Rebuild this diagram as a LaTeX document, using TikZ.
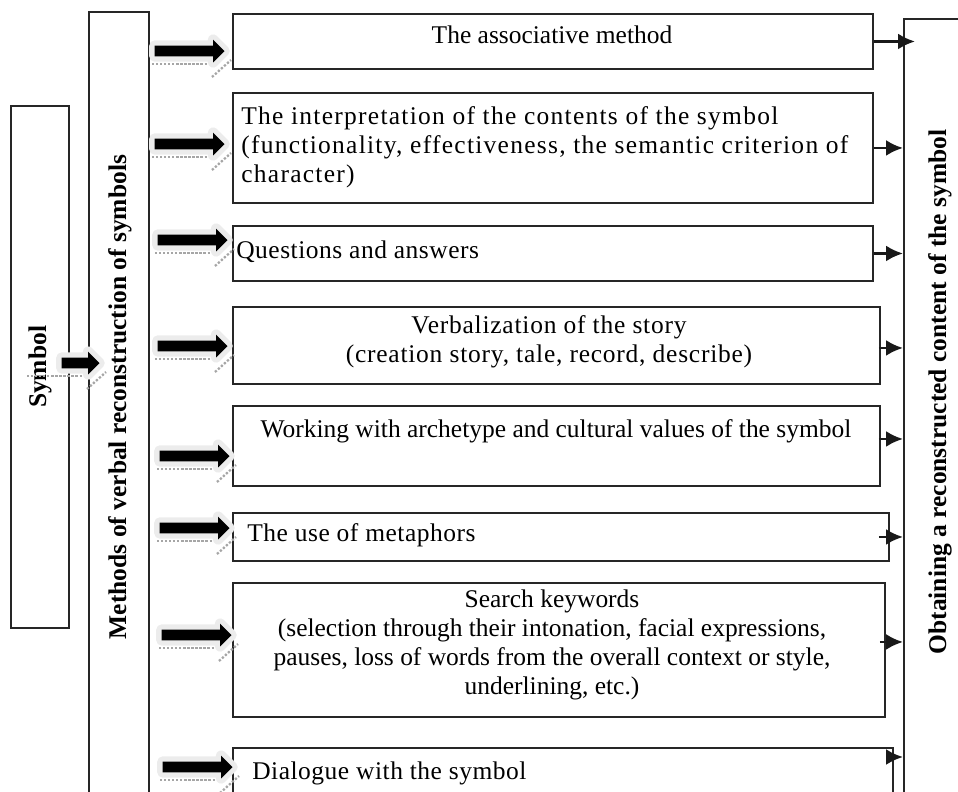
\documentclass[tikz,border=0pt]{standalone}
\usepackage{fontspec}
\setmainfont{Liberation Serif}
\usetikzlibrary{shapes.arrows,arrows.meta,calc}

\tikzset{
  mbox/.style={draw=black!85, line width=1.1pt, anchor=north west, inner sep=0pt},
  mtext/.style={font=\fontsize{14.5}{16.5}\selectfont, inner sep=0pt},
  wide/.style={font=\fontsize{14.5}{16.5}\selectfont\addfontfeature{LetterSpace=#1}},
  sidetext/.style={font=\fontsize{14.5}{16}\selectfont\bfseries, rotate=90, inner sep=0pt},
  blockarr/.style={single arrow, fill=black, inner sep=0pt, text width=0pt,
    text height=0.1cm, text depth=0.1cm, minimum height=1.4cm,
    single arrow head extend=0.12cm, anchor=tip,
    preaction={draw=gray!15, line width=6pt, line join=round}},
  arrshadow/.style={draw=gray!70, line width=1.3pt, densely dotted},
  outarr/.style={draw=black!90, line width=1.5pt, -{Latex[length=3.4mm,width=3.2mm]}}
}

% block arrow with its shadow: name, tip x, tip y
\newcommand{\methodarrow}[4][1.4cm]{%
  \node[blockarr, minimum height=#1] (#2) at (#3,#4) {};
  \draw[arrshadow] ($(#2.tip)+(-73,13)$) -- ++(56,0);
  \draw[arrshadow] ($(#2.tip)+(-13,26)$) -- ++(19,-17);
}

\begin{document}
\begin{tikzpicture}[x=0.02cm, y=-0.02cm]
    \useasboundingbox (0,0) rectangle (958,792);
    \clip (0,0) rectangle (958,792);

    % Side boxes
    \node[mbox, minimum width=1.16cm, minimum height=10.44cm] (sym) at (10,105) {};
    \node[sidetext] (symtext) at (sym.center) {Symbol};
    \node[mbox, minimum width=1.2cm, minimum height=15.9cm] (meth) at (88,11) {};
    \node[sidetext] (methtext) at (120,397) {Methods of verbal reconstruction of symbols};
    \node[mbox, minimum width=1.3cm, minimum height=15.8cm] (res) at (903,18) {};
    \node[sidetext] (restext) at (940,392) {Obtaining a reconstructed content of the symbol};

    % Method boxes
    \node[mbox, minimum width=12.8cm, minimum height=1.1cm] (m1) at (232,13) {};
    \node[mbox, minimum width=12.8cm, minimum height=2.2cm] (m2) at (232,92) {};
    \node[mbox, minimum width=12.8cm, minimum height=1.1cm] (m3) at (232,225) {};
    \node[mbox, minimum width=12.94cm, minimum height=1.54cm] (m4) at (232,306) {};
    \node[mbox, minimum width=12.94cm, minimum height=1.6cm] (m5) at (232,405) {};
    \node[mbox, minimum width=13.12cm, minimum height=0.96cm] (m6) at (232,512) {};
    \node[mbox, minimum width=13.04cm, minimum height=2.68cm] (m7) at (232,582) {};
    \node[mbox, minimum width=13.2cm, minimum height=1.2cm] (m8) at (232,747) {};

    % Method texts
    \node[mtext] (t1) at (552,35) {The associative method};
    \node[mtext, wide=5, anchor=west, align=left] (t2) at (241,147)
      {The interpretation of the contents of the symbol\\(functionality, effectiveness, the semantic criterion of\\character)};
    \node[mtext, wide=2, anchor=west] (t3) at (236,252) {Questions and answers};
    \node[mtext, wide=3, align=center] (t4) at (549,342)
      {Verbalization of the story\\(creation story, tale, record, describe)};
    \node[mtext] (t5) at (556,431) {Working with archetype and cultural values of the symbol};
    \node[mtext, wide=2, anchor=west] (t6) at (247,535) {The use of metaphors};
    \node[mtext, align=center] (t7) at (552,645)
      {Search keywords\\(selection through their intonation, facial expressions,\\pauses, loss of words from the overall context or style,\\underlining, etc.)};
    \node[mtext, wide=2, anchor=west] (t8) at (252,773) {Dialogue with the symbol};

    % Block arrows
    \methodarrow[0.76cm]{a0}{100}{363}
    \methodarrow{a1}{225}{51}
    \methodarrow{a2}{225}{144}
    \methodarrow{a3}{228}{240}
    \methodarrow{a4}{228}{346}
    \methodarrow{a5}{230}{456}
    \methodarrow{a6}{230}{528}
    \methodarrow{a7}{232}{635}
    \methodarrow{a8}{233}{767}

    % Arrows to the result
    \draw[outarr] (m1.east) -- ([xshift=0.24cm]m1.east -| res.west);
    \draw[outarr] (m2.east) -- (m2.east -| res.west);
    \draw[outarr] (m3.east) -- (m3.east -| res.west);
    \draw[outarr] ([xshift=-0.04cm,yshift=-0.05cm]m4.east) -- ([yshift=-0.05cm]m4.east -| res.west);
    \draw[outarr] ([xshift=-0.04cm,yshift=0.14cm]m5.east) -- ([yshift=0.14cm]m5.east -| res.west);
    \draw[outarr] ([xshift=-0.22cm]m6.east) -- (m6.east -| res.west);
    \draw[outarr] ([xshift=-0.12cm,yshift=0.16cm]m7.east) -- ([yshift=0.16cm]m7.east -| res.west);
    \draw[outarr] ([xshift=-0.12cm,yshift=-0.2cm]m8.north east) -- ([yshift=-0.2cm]m8.north east -| res.west);
\end{tikzpicture}
\end{document}
